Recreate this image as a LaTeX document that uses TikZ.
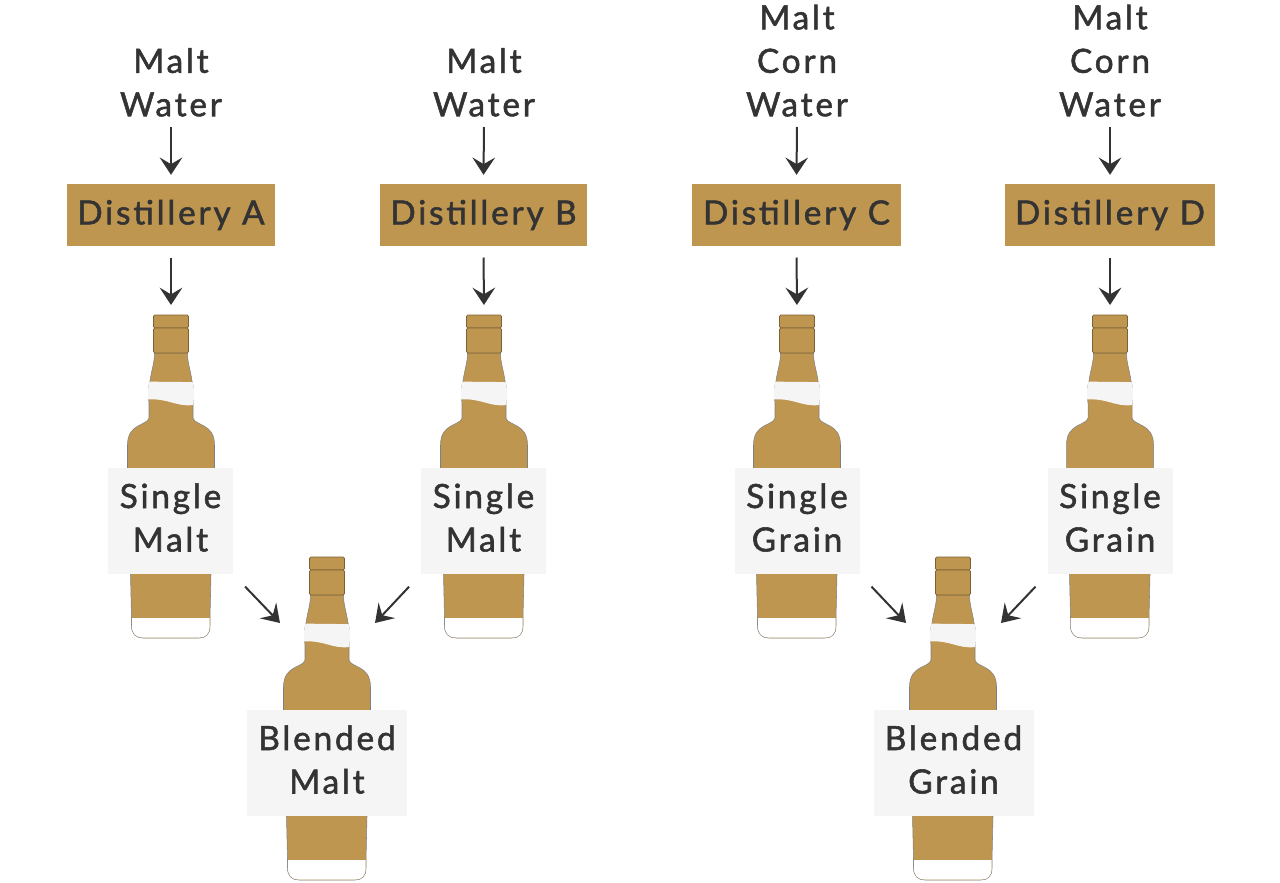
\documentclass[tikz,border=0pt]{standalone}
\usepackage{fontspec}
\setmainfont[LetterSpace=8.5,FakeBold=1.6]{Lato}
\usetikzlibrary{arrows.meta}

\definecolor{whisky}{HTML}{BF9650}
\definecolor{ink}{HTML}{333333}
\definecolor{tag}{HTML}{F5F5F5}

\tikzset{every picture/.style={line width=0.75pt},
  plain text/.style={text=ink,font=\fontsize{25}{32.6}\selectfont,align=center,inner sep=0pt},
  still/.style={plain text,fill=whisky,minimum height=46.5pt,anchor=north},
  bottle tag/.style={plain text,fill=tag,minimum height=79.5pt,text depth=5.3pt},
  flow/.style={draw=ink,line width=1.5pt,-{Stealth[length=13pt,width=17pt,inset=5pt]}},
  pics/bottle/.style={code={
    \begin{scope}[yscale=-1]
    %Shape: Bottle body
    \draw [draw=gray,fill=whisky,line width=0.4pt] (-16.5,38) .. controls (-16.5,48) and (-19.5,55) .. (-21,66) .. controls (-23,72) and (-23,80) .. (-22,88) -- (-22,103) .. controls (-24,111) and (-43.5,108) .. (-43.5,130) -- (-43.5,153) -- (-40.5,259) -- (-39.5,303) -- (-39.5,311) .. controls (-39.5,319) and (-35,323) .. (-28,323) -- (28,323) .. controls (35,323) and (39,319) .. (39,311) -- (39,303) -- (40,259) -- (43.5,153) -- (43.5,130) .. controls (43.5,108) and (24,111) .. (22,103) -- (22,88) .. controls (23,80) and (23,72) .. (21,66) .. controls (19.5,55) and (16.5,48) .. (16.5,38) -- cycle ;
    %Shape: Bottom glass
    \fill [white] (-39.1,303) -- (38.6,303) -- (38.6,311) .. controls (38.6,318.6) and (35,322.6) .. (28,322.6) -- (-28,322.6) .. controls (-35,322.6) and (-39.1,318.6) .. (-39.1,311) -- cycle ;
    %Shape: Neck band
    \fill [tag] (-21.5,66.5) .. controls (-7,67) and (7,67) .. (21.5,67) .. controls (23.5,73) and (23.5,82) .. (22,90) .. controls (5,92) and (-3,83) .. (-23,84.5) .. controls (-23.5,78) and (-23,72) .. (-21.5,66.5) -- cycle ;
    %Shape: Cap
    \draw [draw=black!35!whisky,fill=whisky,line width=0.5pt,rounded corners=1pt] (-17.5,0) rectangle (17.5,13) ;
    \draw [draw=black!35!whisky,fill=whisky,line width=0.5pt,rounded corners=1pt] (-17.5,13) rectangle (17.5,38) ;
    \coordinate (-top) at (0,0) ;
    \coordinate (-in left) at (-47,66) ;
    \coordinate (-in right) at (48,66) ;
    \end{scope}
  }}
}

\begin{document}
\begin{tikzpicture}[x=0.75pt,y=0.75pt,yscale=-1,xscale=1]
\useasboundingbox (0,0) rectangle (1280,882);

% Bottles
\pic (bottleA) at (171,315) {bottle};
\pic (bottleB) at (484,315) {bottle};
\pic (bottleC) at (797,315) {bottle};
\pic (bottleD) at (1110,315) {bottle};
\pic (blendM) at (327,557) {bottle};
\pic (blendG) at (953,557) {bottle};

% Text Node
\draw (171,117) node [plain text,anchor=south] (inA) {Malt\\Water};
\draw (484,117) node [plain text,anchor=south] (inB) {Malt\\Water};
\draw (797,117) node [plain text,anchor=south] (inC) {Malt\\Corn\\Water};
\draw (1110,117) node [plain text,anchor=south] (inD) {Malt\\Corn\\Water};

% Distilleries
\draw (171,183.5) node [still,minimum width=156pt] (distA) {Distillery A};
\draw (483.5,183.5) node [still,minimum width=155.25pt] (distB) {Distillery B};
\draw (796.5,183.5) node [still,minimum width=156.75pt] (distC) {Distillery C};
\draw (1110,183.5) node [still,minimum width=157.5pt] (distD) {Distillery D};

% Tags
\draw (170.5,521) node [bottle tag,minimum width=93.75pt] (tagA) {Single\\Malt};
\draw (483.5,521) node [bottle tag,minimum width=93.75pt] (tagB) {Single\\Malt};
\draw (797,521) node [bottle tag,minimum width=93.75pt] (tagC) {Single\\Grain};
\draw (1110,521) node [bottle tag,minimum width=93.75pt] (tagD) {Single\\Grain};
\draw (327,763) node [bottle tag,minimum width=120pt] (tagM) {Blended\\Malt};
\draw (953.5,763) node [bottle tag,minimum width=120pt] (tagG) {Blended\\Grain};

% Arrows
\foreach \n in {A,B,C,D}{
  \draw [flow,shorten <=7.5pt,shorten >=6.5pt] (in\n.south) -- (dist\n.north) ;
  \draw [flow,shorten <=8.25pt,shorten >=7.5pt] (dist\n.south) -- (bottle\n-top) ;
}
\draw [flow,shorten <=12.5pt] (tagA.south east) -- (blendM-in left) ;
\draw [flow,shorten <=12.5pt] (tagB.south west) -- (blendM-in right) ;
\draw [flow,shorten <=12.5pt] (tagC.south east) -- (blendG-in left) ;
\draw [flow,shorten <=12.5pt] (tagD.south west) -- (blendG-in right) ;

\end{tikzpicture}
\end{document}
